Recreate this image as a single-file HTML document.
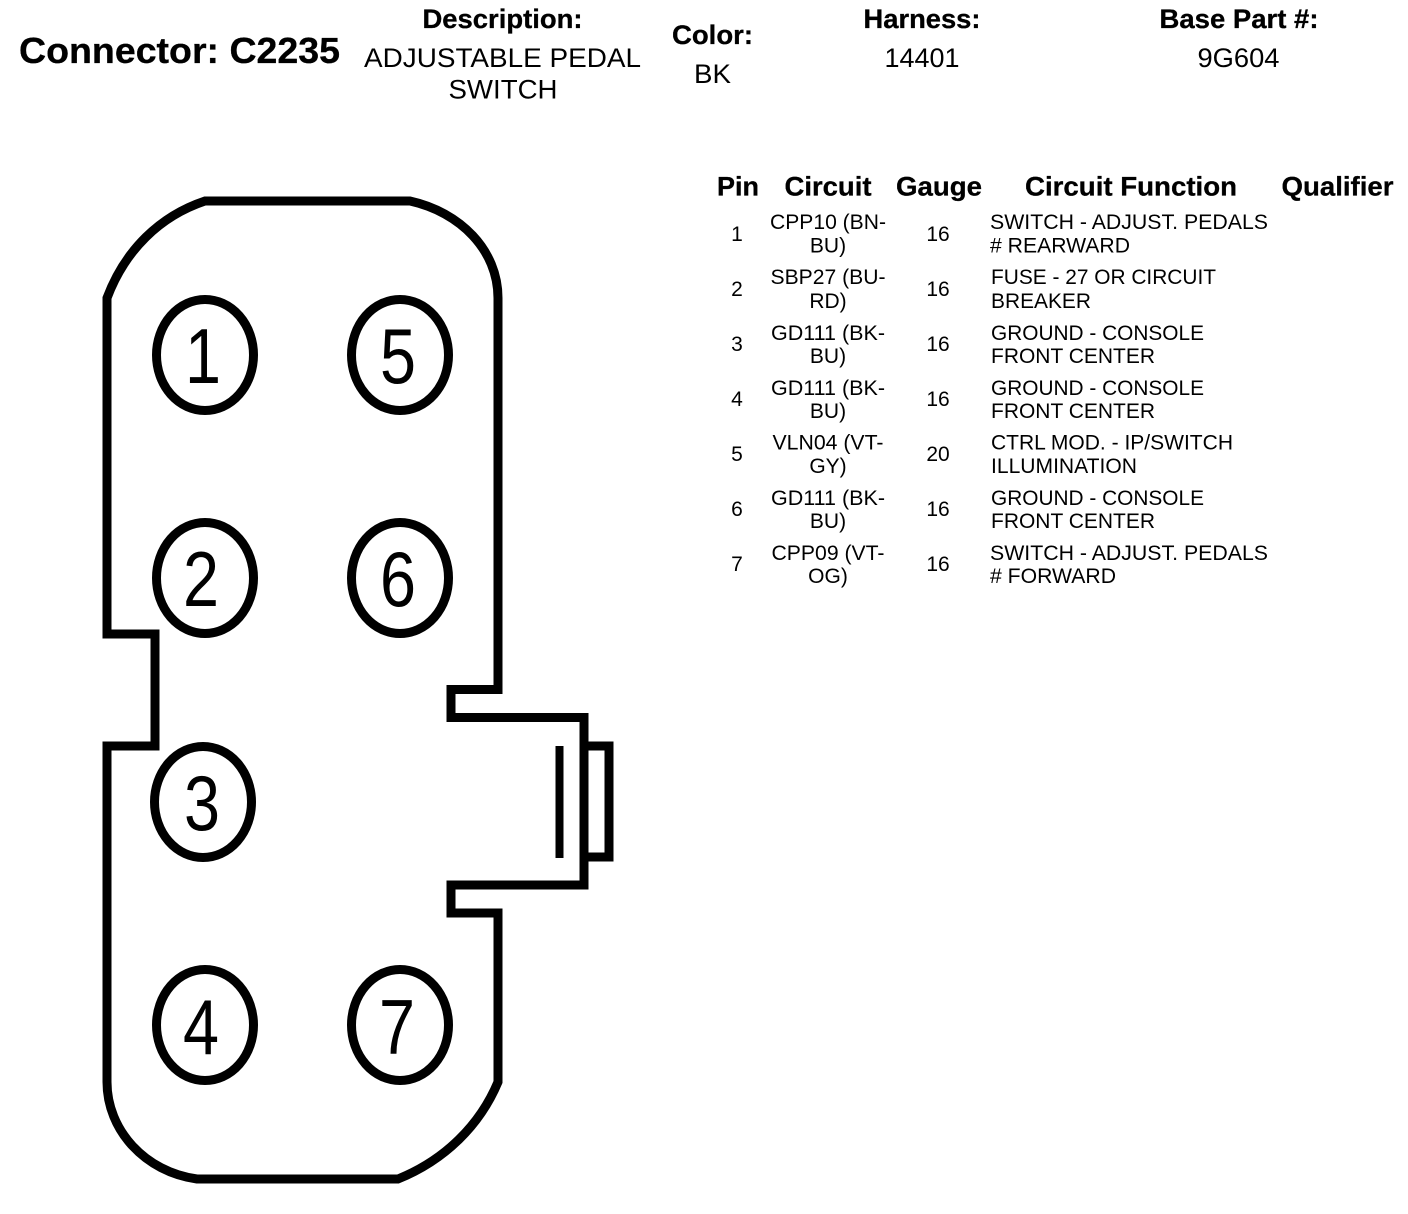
<!DOCTYPE html>
<html><head><meta charset="utf-8"><style>
html,body{margin:0;padding:0;background:#fff;width:1408px;height:1214px;overflow:hidden}
svg{display:block}
text{font-family:"Liberation Sans",Arial,sans-serif;fill:#000}
.b{font-weight:bold;text-anchor:middle;font-size:27px;stroke:#000;stroke-width:.3}
.h{font-size:27px;text-anchor:middle}
.c{font-size:21px;text-anchor:middle}
.l{font-size:21px}
.d{font-size:78px;text-anchor:middle}
.s{fill:none;stroke:#000;stroke-width:9}
</style></head><body>
<svg width="1408" height="1214" viewBox="0 0 1408 1214" xmlns="http://www.w3.org/2000/svg">
<path class="s" d="M107 298 C125 250 160 216 205 201 L410 201 C460 212 498 250 498 298 L498 689.5 L451 689.5 L451 717.5 L584 717.5 L584 885 L451 885 L451 913 L498 913 L498 1082 C480 1125 445 1160 398 1179 L197 1179 C145 1172 107 1130 107 1082 L107 746 L155 746 L155 634 L107 634 Z"/>
<path class="s" d="M584 746 L609 746 L609 857 L584 857"/>
<rect x="555.500" y="746" width="8" height="112" fill="#000"/>
<ellipse class="s" cx="205" cy="355" rx="48.500" ry="55.500"/>
<ellipse class="s" cx="400" cy="355" rx="48.500" ry="55.500"/>
<ellipse class="s" cx="205" cy="578" rx="48.500" ry="55.500"/>
<ellipse class="s" cx="400" cy="578" rx="48.500" ry="55.500"/>
<ellipse class="s" cx="203" cy="802" rx="48.500" ry="55.500"/>
<ellipse class="s" cx="205" cy="1025" rx="48.500" ry="55.500"/>
<ellipse class="s" cx="400" cy="1025" rx="48.500" ry="55.500"/>
<text class="d" x="203" y="383" textLength="36" lengthAdjust="spacingAndGlyphs">1</text>
<text class="d" x="398" y="383" textLength="36" lengthAdjust="spacingAndGlyphs">5</text>
<text class="d" x="201" y="606" textLength="36" lengthAdjust="spacingAndGlyphs">2</text>
<text class="d" x="398" y="606" textLength="36" lengthAdjust="spacingAndGlyphs">6</text>
<text class="d" x="202" y="830" textLength="36" lengthAdjust="spacingAndGlyphs">3</text>
<text class="d" x="201" y="1054" textLength="36" lengthAdjust="spacingAndGlyphs">4</text>
<text class="d" x="397" y="1054" textLength="36" lengthAdjust="spacingAndGlyphs">7</text>

<text x="19" y="63" font-weight="bold" font-size="36" stroke="#000" stroke-width=".3" textLength="321" lengthAdjust="spacingAndGlyphs">Connector: C2235</text>
<text class="b" x="502.500" y="28" textLength="160" lengthAdjust="spacingAndGlyphs">Description:</text>
<text class="h" x="502.500" y="67" textLength="277" lengthAdjust="spacingAndGlyphs">ADJUSTABLE PEDAL</text>
<text class="h" x="503" y="98.500" textLength="109" lengthAdjust="spacingAndGlyphs">SWITCH</text>
<text class="b" x="712.500" y="44" textLength="81" lengthAdjust="spacingAndGlyphs">Color:</text>
<text class="h" x="712.500" y="83" textLength="37" lengthAdjust="spacingAndGlyphs">BK</text>
<text class="b" x="922" y="28" textLength="117" lengthAdjust="spacingAndGlyphs">Harness:</text>
<text class="h" x="922" y="67" textLength="75" lengthAdjust="spacingAndGlyphs">14401</text>
<text class="b" x="1239" y="28" textLength="159" lengthAdjust="spacingAndGlyphs">Base Part #:</text>
<text class="h" x="1238.500" y="67" textLength="82" lengthAdjust="spacingAndGlyphs">9G604</text>

<text class="b" x="738" y="195.500" textLength="42" lengthAdjust="spacingAndGlyphs">Pin</text>
<text class="b" x="828" y="195.500" textLength="87" lengthAdjust="spacingAndGlyphs">Circuit</text>
<text class="b" x="939" y="195.500" textLength="86" lengthAdjust="spacingAndGlyphs">Gauge</text>
<text class="b" x="1131" y="195.500" textLength="212" lengthAdjust="spacingAndGlyphs">Circuit Function</text>
<text class="b" x="1337.500" y="195.500" textLength="112" lengthAdjust="spacingAndGlyphs">Qualifier</text>

<text class="c" x="737" y="241">1</text><text class="c" x="828" y="229" textLength="116" lengthAdjust="spacingAndGlyphs">CPP10 (BN-</text><text class="c" x="828" y="252.500">BU)</text><text class="c" x="938" y="241">16</text><text class="l" x="990" y="229" textLength="278" lengthAdjust="spacingAndGlyphs">SWITCH - ADJUST. PEDALS</text><text class="l" x="990" y="252.500" textLength="140" lengthAdjust="spacingAndGlyphs"># REARWARD</text>
<text class="c" x="737" y="296">2</text><text class="c" x="828" y="284" textLength="115" lengthAdjust="spacingAndGlyphs">SBP27 (BU-</text><text class="c" x="828" y="308">RD)</text><text class="c" x="938" y="296">16</text><text class="l" x="991" y="284" textLength="225" lengthAdjust="spacingAndGlyphs">FUSE - 27 OR CIRCUIT</text><text class="l" x="991" y="308" textLength="100" lengthAdjust="spacingAndGlyphs">BREAKER</text>
<text class="c" x="737" y="351">3</text><text class="c" x="828" y="340" textLength="114" lengthAdjust="spacingAndGlyphs">GD111 (BK-</text><text class="c" x="828" y="363">BU)</text><text class="c" x="938" y="351">16</text><text class="l" x="991" y="340" textLength="213" lengthAdjust="spacingAndGlyphs">GROUND - CONSOLE</text><text class="l" x="991" y="363" textLength="164" lengthAdjust="spacingAndGlyphs">FRONT CENTER</text>
<text class="c" x="737" y="406">4</text><text class="c" x="828" y="395" textLength="114" lengthAdjust="spacingAndGlyphs">GD111 (BK-</text><text class="c" x="828" y="418">BU)</text><text class="c" x="938" y="406">16</text><text class="l" x="991" y="395" textLength="213" lengthAdjust="spacingAndGlyphs">GROUND - CONSOLE</text><text class="l" x="991" y="418" textLength="164" lengthAdjust="spacingAndGlyphs">FRONT CENTER</text>
<text class="c" x="737" y="461">5</text><text class="c" x="828" y="449.500" textLength="111" lengthAdjust="spacingAndGlyphs">VLN04 (VT-</text><text class="c" x="828" y="473">GY)</text><text class="c" x="938" y="461">20</text><text class="l" x="991" y="449.500" textLength="242" lengthAdjust="spacingAndGlyphs">CTRL MOD. - IP/SWITCH</text><text class="l" x="991" y="473" textLength="146" lengthAdjust="spacingAndGlyphs">ILLUMINATION</text>
<text class="c" x="737" y="516">6</text><text class="c" x="828" y="505" textLength="114" lengthAdjust="spacingAndGlyphs">GD111 (BK-</text><text class="c" x="828" y="528">BU)</text><text class="c" x="938" y="516">16</text><text class="l" x="991" y="505" textLength="213" lengthAdjust="spacingAndGlyphs">GROUND - CONSOLE</text><text class="l" x="991" y="528" textLength="164" lengthAdjust="spacingAndGlyphs">FRONT CENTER</text>
<text class="c" x="737" y="571">7</text><text class="c" x="828" y="560" textLength="113" lengthAdjust="spacingAndGlyphs">CPP09 (VT-</text><text class="c" x="828" y="583">OG)</text><text class="c" x="938" y="571">16</text><text class="l" x="990" y="560" textLength="278" lengthAdjust="spacingAndGlyphs">SWITCH - ADJUST. PEDALS</text><text class="l" x="990" y="583" textLength="126" lengthAdjust="spacingAndGlyphs"># FORWARD</text>
</svg>
</body></html>
